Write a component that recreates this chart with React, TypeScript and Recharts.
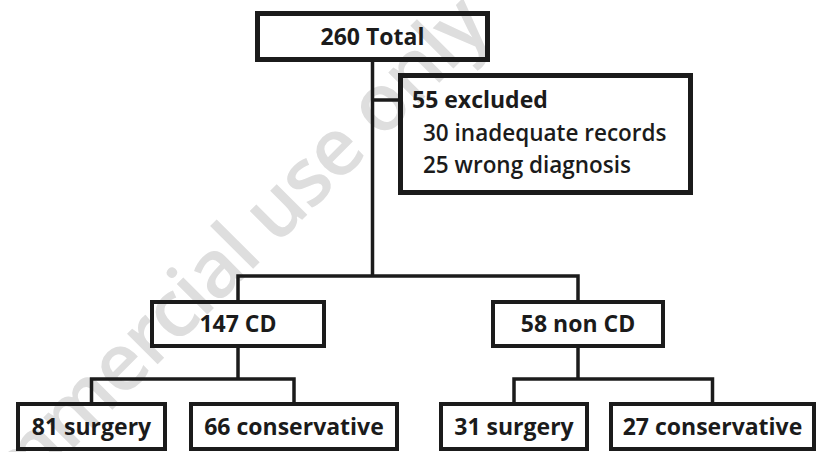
import { ScatterChart, Scatter, XAxis, YAxis } from 'recharts';

// study flow: counts and labels per box
const nodeCounts = [260, 55, 147, 58, 81, 66, 31, 27];
const nodeLabels = ['Total', 'excluded', 'CD', 'non CD', 'surgery', 'conservative', 'surgery', 'conservative'];
const exclusionCounts = [30, 25];
const exclusionReasons = ['inadequate records', 'wrong diagnosis'];
const watermarkText = 'Not for commercial use only';

const W = 818;
const H = 452;
const INK = '#1b1b1b';
const FONT = '"Open Sans", "Noto Sans", sans-serif';

// box layout in chart units (x: 0..818, y: 0..452 from top)
const layout = [
  { x0: 255, x1: 490, y0: 11, y1: 62, sw: 5 },
  { x0: 398, x1: 693, y0: 73, y1: 195, sw: 5 },
  { x0: 150, x1: 326, y0: 300, y1: 348, sw: 4 },
  { x0: 491, x1: 665, y0: 300, y1: 348, sw: 4 },
  { x0: 16, x1: 167, y0: 402, y1: 451, sw: 4 },
  { x0: 189, x1: 399, y0: 402, y1: 451, sw: 4 },
  { x0: 439, x1: 589, y0: 402, y1: 451, sw: 4 },
  { x0: 609, x1: 816, y0: 402, y1: 451, sw: 4 },
];

const nodes = nodeCounts.map((n, i) => {
  const b = layout[i];
  return {
    x: (b.x0 + b.x1) / 2,
    y: (b.y0 + b.y1) / 2,
    w: b.x1 - b.x0,
    h: b.y1 - b.y0,
    sw: b.sw,
    label: `${n} ${nodeLabels[i]}`,
    detail: i === 1 ? exclusionCounts.map((c, k) => `${c} ${exclusionReasons[k]}`) : null,
  };
});

const mid = (i: number) => nodes[i].x;
const top = (i: number) => layout[i].y0;
const bottom = (i: number) => layout[i].y1;

// connectors: parent stem, then a bus to each pair of children
const groups = [
  { parent: 0, kids: [2, 3], bus: 276 },
  { parent: 2, kids: [4, 5], bus: 379 },
  { parent: 3, kids: [6, 7], bus: 379 },
];

const connectors: { x: number; y: number }[][] = [];
groups.forEach((g) => {
  connectors.push([{ x: mid(g.parent), y: bottom(g.parent) - 1 }, { x: mid(g.parent), y: g.bus }]);
  const [a, b] = g.kids;
  connectors.push([
    { x: mid(a), y: top(a) + 1 },
    { x: mid(a), y: g.bus },
    { x: mid(b), y: g.bus },
    { x: mid(b), y: top(b) + 1 },
  ]);
});
// side branch to the exclusion box
connectors.push([{ x: mid(0), y: 100 }, { x: layout[1].x0 + 2, y: 100 }]);

const BoxShape = (props: any) => {
  const { cx, cy, payload } = props;
  const { w, h, sw, label, detail } = payload;
  const left = cx - w / 2;
  const upper = cy - h / 2;
  return (
    <g>
      <rect
        x={left + sw / 2}
        y={upper + sw / 2}
        width={w - sw}
        height={h - sw}
        fill="none"
        stroke={INK}
        strokeWidth={sw}
      />
      {detail ? (
        <g fontFamily={FONT} fill={INK}>
          <text x={left + 14} y={upper + 35} fontSize={23} fontWeight={700}>
            {label}
          </text>
          {detail.map((d: string, k: number) => (
            <text key={k} x={left + 25} y={upper + 68 + k * 32} fontSize={22.5} fontWeight={600}>
              {d}
            </text>
          ))}
        </g>
      ) : (
        <text
          x={cx}
          y={cy + 8}
          textAnchor="middle"
          fontFamily={FONT}
          fontSize={23}
          fontWeight={700}
          fill={INK}
        >
          {label}
        </text>
      )}
    </g>
  );
};

const WatermarkShape = (props: any) => {
  const { cx, cy, payload } = props;
  return (
    <text
      x={cx}
      y={cy}
      textAnchor="end"
      transform={`rotate(-45, ${cx}, ${cy})`}
      fontFamily={FONT}
      fontSize={80}
      fontWeight={600}
      letterSpacing={-2}
      fill="#dedede"
    >
      {payload.text}
    </text>
  );
};

const App = () => {
  return (
    <div style={{ position: 'absolute', left: 0, top: 0, width: W, height: H, background: '#fff' }}>
      <ScatterChart width={W} height={H} margin={{ top: 0, right: 0, bottom: 0, left: 0 }}>
        <XAxis type="number" dataKey="x" domain={[0, W]} hide allowDataOverflow />
        <YAxis type="number" dataKey="y" domain={[0, H]} reversed hide allowDataOverflow />
        <Scatter
          data={[{ x: 492, y: 30, text: watermarkText }]}
          shape={<WatermarkShape />}
          isAnimationActive={false}
        />
        {connectors.map((pts, i) => (
          <Scatter
            key={`c${i}`}
            data={pts}
            line={{ stroke: INK, strokeWidth: 3.5 }}
            shape={() => <g />}
            isAnimationActive={false}
          />
        ))}
        <Scatter data={nodes} shape={<BoxShape />} isAnimationActive={false} />
      </ScatterChart>
    </div>
  );
};

export default App;
